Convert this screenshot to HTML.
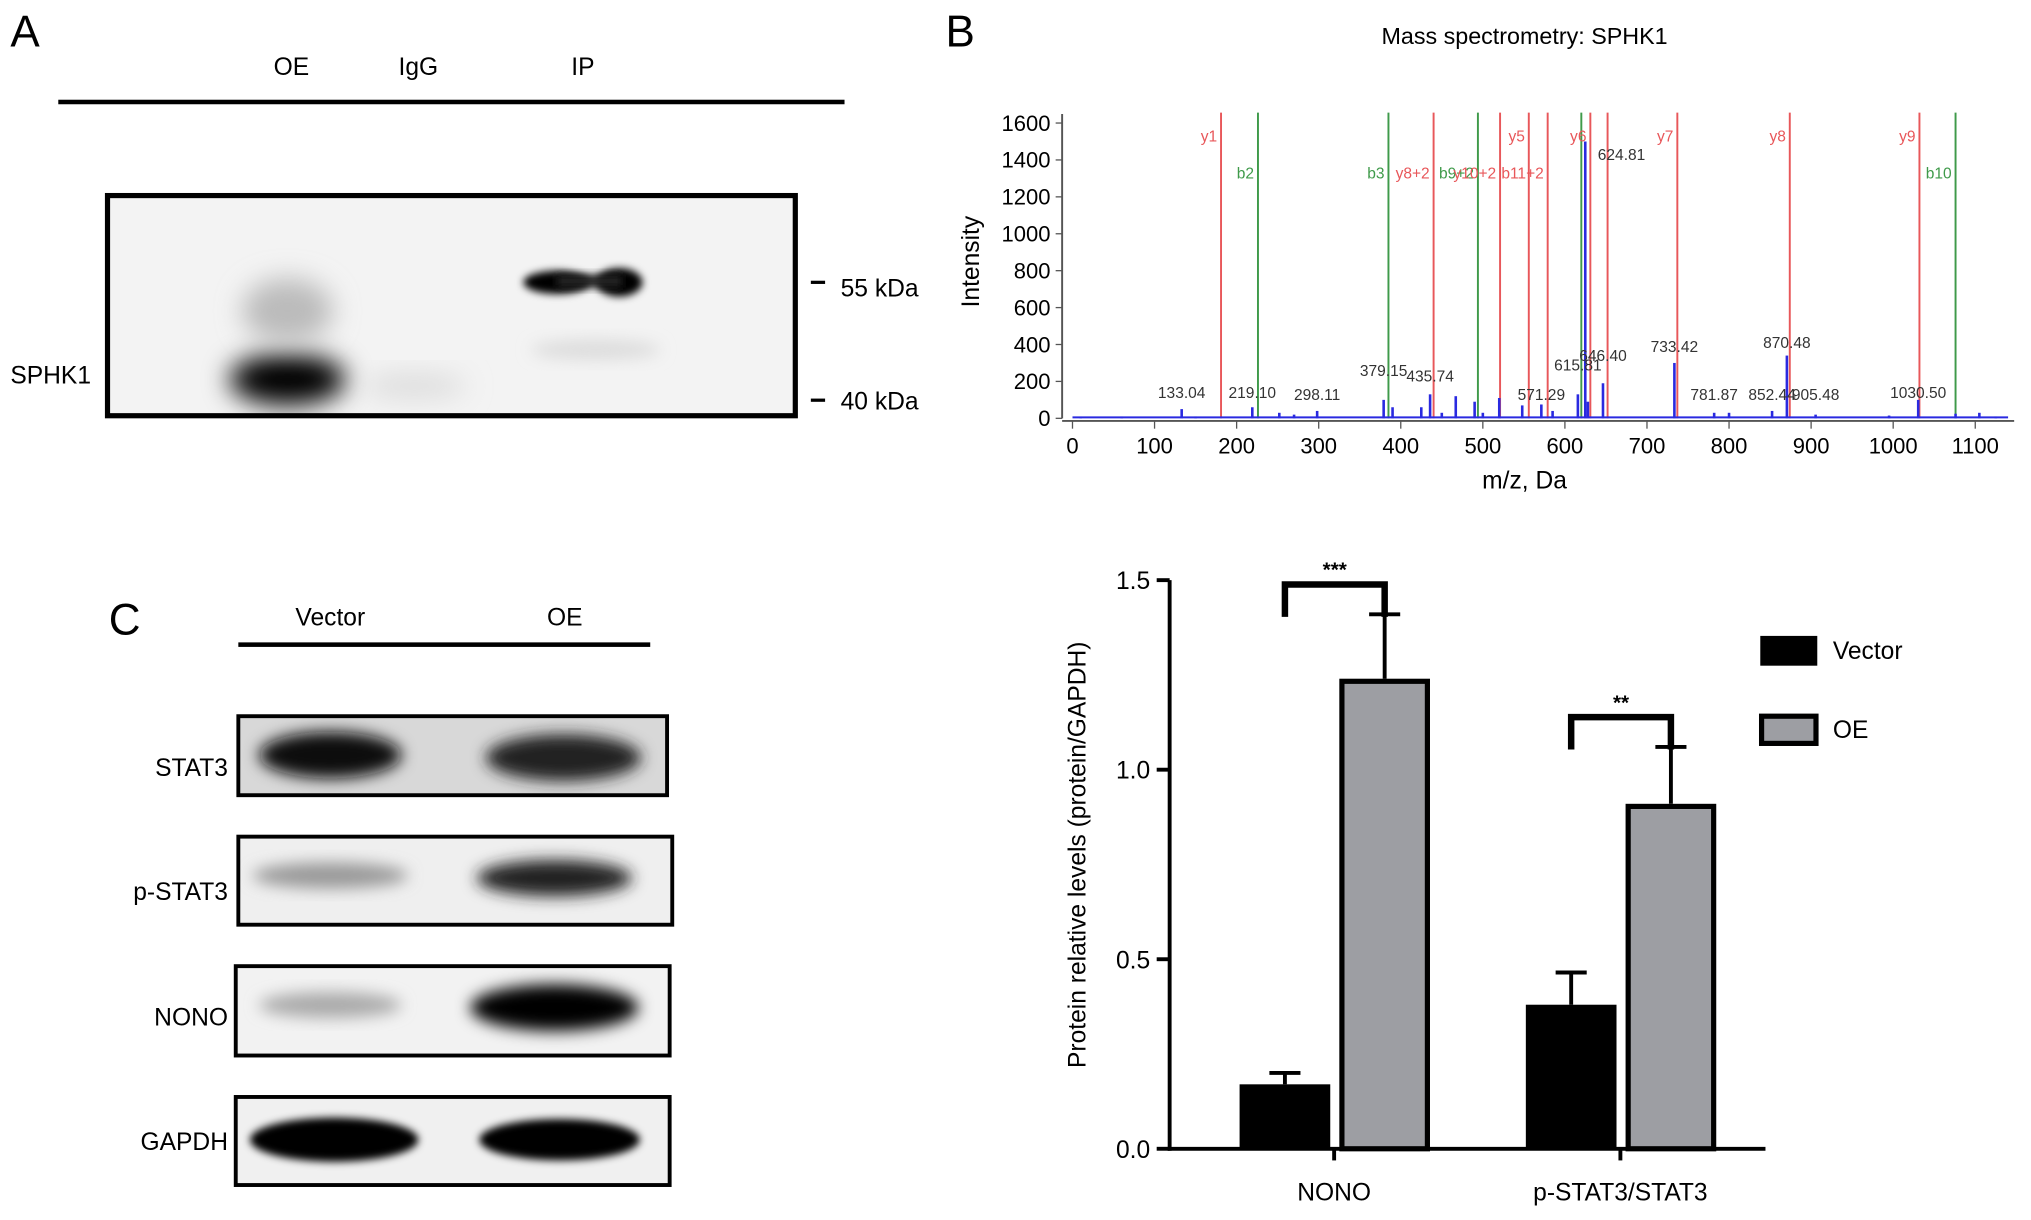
<!DOCTYPE html>
<html><head><meta charset="utf-8"><style>
html,body{margin:0;padding:0;background:#fff}
svg{display:block;font-family:"Liberation Sans",Arial,sans-serif}
</style></head><body>
<svg id="fig" width="2031" height="1220" viewBox="0 0 1568 942" preserveAspectRatio="none" xmlns="http://www.w3.org/2000/svg">
<defs>
<filter id="b6" x="-50%" y="-50%" width="200%" height="200%"><feGaussianBlur stdDeviation="6"/></filter>
<filter id="b10" x="-50%" y="-50%" width="200%" height="200%"><feGaussianBlur stdDeviation="10"/></filter>
<filter id="b3" x="-50%" y="-50%" width="200%" height="200%"><feGaussianBlur stdDeviation="3"/></filter>
<clipPath id="cA"><rect x="83" y="151" width="531" height="170"/></clipPath>
<clipPath id="c1"><rect x="184" y="553" width="331" height="61"/></clipPath>
<clipPath id="c2"><rect x="184" y="646" width="335" height="68"/></clipPath>
<clipPath id="c3"><rect x="182" y="746" width="335" height="69"/></clipPath>
<clipPath id="c4"><rect x="182" y="847" width="335" height="68"/></clipPath>
</defs>
<rect width="1568" height="942" fill="#fff"/>

<!-- Panel A -->
<g>
<text x="8" y="36" font-size="34">A</text>
<text x="225" y="58" font-size="19" text-anchor="middle">OE</text>
<text x="323" y="58" font-size="19" text-anchor="middle">IgG</text>
<text x="450" y="58" font-size="19" text-anchor="middle">IP</text>
<rect x="45" y="77" width="607" height="3.5" fill="#000"/>
<g>
<rect x="83" y="151" width="531" height="170" fill="#f3f3f3"/>
<g clip-path="url(#cA)">
<ellipse cx="222" cy="293" rx="45" ry="20" fill="#000" filter="url(#b10)"/>
<ellipse cx="222" cy="240" rx="35" ry="25" fill="#bbb" filter="url(#b10)"/>
<ellipse cx="320" cy="298" rx="40" ry="10" fill="#ddd" filter="url(#b10)"/>
<ellipse cx="430" cy="218" rx="26" ry="9" fill="#000" filter="url(#b3)"/>
<ellipse cx="478" cy="218" rx="18" ry="11" fill="#000" filter="url(#b3)"/>
<rect x="430" y="212" width="50" height="10" fill="#222" filter="url(#b3)"/>
<ellipse cx="460" cy="270" rx="50" ry="8" fill="#ddd" filter="url(#b6)"/>
</g>
<rect x="83" y="151" width="531" height="170" fill="none" stroke="#000" stroke-width="4"/>
</g>
<text x="8" y="296" font-size="19">SPHK1</text>
<line x1="626" y1="218" x2="637" y2="218" stroke="#000" stroke-width="2.5"/>
<text x="649" y="229" font-size="19">55 kDa</text>
<line x1="626" y1="309" x2="637" y2="309" stroke="#000" stroke-width="2.5"/>
<text x="649" y="316" font-size="19">40 kDa</text>
</g>

<!-- Panel B -->
<g>
<text x="730" y="36" font-size="34">B</text>
<text x="1177" y="34" font-size="18" text-anchor="middle">Mass spectrometry: SPHK1</text>
<g id="spec"></g>
<text transform="translate(756,202) rotate(-90)" font-size="19" text-anchor="middle">Intensity</text>
<text x="1177" y="377" font-size="19" text-anchor="middle">m/z, Da</text>
</g>

<!-- Panel C -->
<g>
<text x="84" y="490" font-size="34">C</text>
<text x="255" y="483" font-size="19" text-anchor="middle">Vector</text>
<text x="436" y="483" font-size="19" text-anchor="middle">OE</text>
<rect x="184" y="496" width="318" height="3.5" fill="#000"/>

<g>
<rect x="184" y="553" width="331" height="61" fill="#d8d8d8"/>
<g clip-path="url(#c1)">
<ellipse cx="255" cy="583" rx="55" ry="18" fill="#111" filter="url(#b6)"/>
<ellipse cx="435" cy="585" rx="60" ry="18" fill="#222" filter="url(#b6)"/>
</g>
<rect x="184" y="553" width="331" height="61" fill="none" stroke="#000" stroke-width="3"/>
</g>
<text x="176" y="599" font-size="19" text-anchor="end">STAT3</text>

<g>
<rect x="184" y="646" width="335" height="68" fill="#efefef"/>
<g clip-path="url(#c2)">
<ellipse cx="255" cy="676" rx="60" ry="10" fill="#999" filter="url(#b6)"/>
<ellipse cx="428" cy="678" rx="60" ry="14" fill="#222" filter="url(#b6)"/>
</g>
<rect x="184" y="646" width="335" height="68" fill="none" stroke="#000" stroke-width="3"/>
</g>
<text x="176" y="695" font-size="19" text-anchor="end">p-STAT3</text>

<g>
<rect x="182" y="746" width="335" height="69" fill="#f2f2f2"/>
<g clip-path="url(#c3)">
<ellipse cx="255" cy="776" rx="55" ry="10" fill="#aaa" filter="url(#b6)"/>
<ellipse cx="428" cy="778" rx="65" ry="18" fill="#000" filter="url(#b6)"/>
</g>
<rect x="182" y="746" width="335" height="69" fill="none" stroke="#000" stroke-width="3"/>
</g>
<text x="176" y="792" font-size="19" text-anchor="end">NONO</text>

<g>
<rect x="182" y="847" width="335" height="68" fill="#f0f0f0"/>
<g clip-path="url(#c4)">
<ellipse cx="258" cy="880" rx="65" ry="17" fill="#000" filter="url(#b3)"/>
<ellipse cx="432" cy="880" rx="62" ry="16" fill="#000" filter="url(#b3)"/>
</g>
<rect x="182" y="847" width="335" height="68" fill="none" stroke="#000" stroke-width="3"/>
</g>
<text x="176" y="888" font-size="19" text-anchor="end">GAPDH</text>

<g id="bars"></g>
<text transform="translate(838,660) rotate(-90)" font-size="19" text-anchor="middle">Protein relative levels (protein/GAPDH)</text>
<g>
<rect x="1359" y="491" width="44" height="23" fill="#000"/>
<text x="1415" y="509" font-size="19">Vector</text>
<rect x="1360" y="553" width="42" height="21" fill="#9d9ea3" stroke="#000" stroke-width="4"/>
<text x="1415" y="570" font-size="19">OE</text>
</g>
</g>
</svg>
<script>
const NS="http://www.w3.org/2000/svg";
// ---- Spectrum data ----
const specTicksX=[0,100,200,300,400,500,600,700,800,900,1000,1100];
const specTicksY=[0,200,400,600,800,1000,1200,1400,1600];
const peakMz=[10,60,133.04,150,219.10,252,270,298.11,379.15,390,425,435.74,450,467,490,500,520,548,571.29,585,615.81,624.81,628,646.40,733.42,781.87,800,852.44,870.48,905.48,995,1030.50,1076,1105,1125];
const peakInt=[8,10,50,10,60,30,20,40,100,60,60,130,30,120,90,30,110,70,75,40,130,1500,90,190,300,30,30,40,340,20,15,100,25,30,10];
const labelMz=[133.04,219.10,298.11,379.15,435.74,571.29,615.81,624.81,646.40,733.42,781.87,852.44,870.48,905.48,1030.50];
const labelText=["133.04","219.10","298.11","379.15","435.74","571.29","615.81","624.81","646.40","733.42","781.87","852.44","870.48","905.48","1030.50"];
const labelInt=[110,110,100,230,200,100,260,1400,310,360,100,100,380,100,110];
const ionMz=[181,226,385,440,494,521,556,579,620,631,652,737,874,1032,1076];
const ionName=["y1","b2","b3","y8+2","b9+2","y10+2","y5","b11+2","","y6","","y7","y8","y9","b10"];
const ionType=["y","b","b","y","b","y","y","y","b","y","y","y","y","y","b"];
const ionLabelY=[1500,1300,1300,1300,1300,1300,1500,1300,1300,1500,1300,1500,1500,1500,1300];

const sx=v=>828+v*0.6336, sy=v=>323-v*(228/1600);
const spec=document.getElementById('spec');
function mk(tag,attrs,parent){const e=document.createElementNS(NS,tag);for(const k in attrs)e.setAttribute(k,attrs[k]);(parent||spec).appendChild(e);return e;}
let ax=mk('line',{x1:820,y1:sy(0),x2:820,y2:88,stroke:'#555','stroke-width':1.5});


let axx=mk('line',{x1:820,y1:325,x2:1555,y2:325,stroke:'#555','stroke-width':1.5});


specTicksY.forEach(v=>{
  mk('line',{x1:815,y1:sy(v),x2:820,y2:sy(v),stroke:'#555'});
  const t=mk('text',{x:811,y:sy(v)+6,'font-size':17,'text-anchor':'end'});t.textContent=v;
  
  
});
specTicksX.forEach(v=>{
  mk('line',{x1:sx(v),y1:325,x2:sx(v),y2:331,stroke:'#555'});
  const t=mk('text',{x:sx(v),y:350,'font-size':17,'text-anchor':'middle'});t.textContent=v;
  
  
});
ionMz.forEach((m,i)=>{
  const c=ionType[i]==='y'?'#e8575a':'#3f9a4a';
  const l=mk('line',{x1:sx(m),y1:87,x2:sx(m),y2:sy(0),stroke:c,'stroke-width':1.5});
  
  
  if(ionName[i]){const t=mk('text',{x:sx(m)-3,y:sy(ionLabelY[i]),'font-size':12,'text-anchor':'end',fill:c});t.textContent=ionName[i];
  
  }
});
mk('line',{x1:sx(0),y1:sy(5),x2:sx(1140),y2:sy(5),stroke:'#2a2ae0','stroke-width':1.5});
peakMz.forEach((m,i)=>{
  const p=mk('line',{x1:sx(m),y1:sy(0),x2:sx(m),y2:sy(peakInt[i]),stroke:'#2a2ae0','stroke-width':2});
  
  
});
labelMz.forEach((m,i)=>{
  const t=mk('text',{x:sx(m),y:sy(labelInt[i]),'font-size':12,'text-anchor':'middle',fill:'#333'});t.textContent=labelText[i];
  if(m===624.81){t.setAttribute('x',sx(m)+28);}
  
  
});

// ---- Bar chart data ----
const categories=["NONO","p-STAT3/STAT3"];
const vectorVals=[0.17,0.38];
const vectorErr=[0.03,0.085];
const oeVals=[1.24,0.91];
const oeErr=[0.17,0.15];
const yTicks=[0.0,0.5,1.0,1.5];
const yTickLabels=["0.0","0.5","1.0","1.5"];
const sigLabels=["***","**"];

const bars=document.getElementById('bars');
const by=v=>887-v*292.7;
const catX=[1030,1251];
function bk(tag,attrs){return mk(tag,attrs,bars);}
let ya=bk('line',{x1:903,y1:by(0)+1.5,x2:903,y2:by(1.5),stroke:'#000','stroke-width':3});


let xa=bk('line',{x1:901.5,y1:by(0),x2:1363,y2:by(0),stroke:'#000','stroke-width':3});


yTicks.forEach((v,i)=>{
  bk('line',{x1:893,y1:by(v),x2:903,y2:by(v),stroke:'#000','stroke-width':3});
  const t=bk('text',{x:888,y:by(v)+7,'font-size':19,'text-anchor':'end'});t.textContent=yTickLabels[i];
  
  
});
categories.forEach((c,i)=>{
  const cx=catX[i];
  bk('line',{x1:cx,y1:by(0),x2:cx,y2:by(0)+9,stroke:'#000','stroke-width':3});
  const t=bk('text',{x:cx,y:927,'font-size':19,'text-anchor':'middle'});t.textContent=c;
  
  
  const vx=cx-73,w=70;
  const ve=vectorVals[i]+vectorErr[i];
  bk('line',{x1:vx+w/2,y1:by(vectorVals[i]),x2:vx+w/2,y2:by(ve),stroke:'#000','stroke-width':3});
  bk('line',{x1:vx+w/2-12,y1:by(ve),x2:vx+w/2+12,y2:by(ve),stroke:'#000','stroke-width':3});
  const r1=bk('rect',{x:vx,y:by(vectorVals[i]),width:w,height:by(0)-by(vectorVals[i]),fill:'#000'});
  
  
  const ox=cx+6;
  const oe=oeVals[i]+oeErr[i];
  bk('line',{x1:ox+33,y1:by(oeVals[i]),x2:ox+33,y2:by(oe),stroke:'#000','stroke-width':3});
  bk('line',{x1:ox+21,y1:by(oe),x2:ox+45,y2:by(oe),stroke:'#000','stroke-width':3});
  const r2=bk('rect',{x:ox,y:by(oeVals[i])+2,width:w-4,height:by(0)-by(oeVals[i])-2,fill:'#9d9ea3',stroke:'#000','stroke-width':4});
  
  
  const top=by(Math.max(oe,ve))-23;
  const bl=vx+w/2, br=ox+33;
  const br_=bk('path',{d:`M${bl} ${top+25} V${top} H${br} V${top+25}`,fill:'none',stroke:'#000','stroke-width':5});
  
  
  const s=bk('text',{x:(bl+br)/2,y:top-6,'font-size':16,'text-anchor':'middle','font-weight':'bold'});s.textContent=sigLabels[i];
  
  
});
</script>
</body></html>
